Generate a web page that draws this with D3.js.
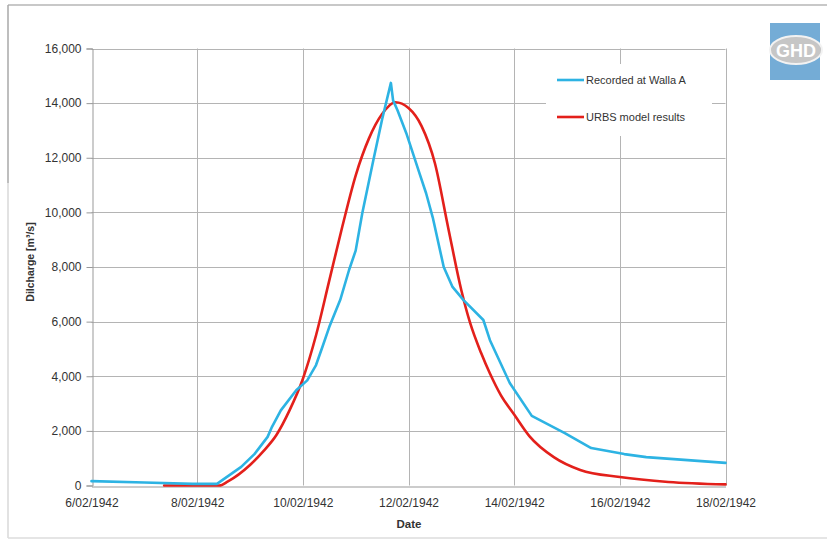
<!DOCTYPE html>
<html>
<head>
<meta charset="utf-8">
<script src="https://cdn.jsdelivr.net/npm/d3@7"></script>
<style>
  html, body { margin: 0; padding: 0; background: #fff; }
  svg { display: block; }
  text { font-family: "Liberation Sans", Arial, sans-serif; fill: #333; }
</style>
</head>
<body>
<svg id="chart" width="827" height="544"></svg>
<script>
// Recorded discharge at Walla A (m³/s)
const recordedTimes = [
  "1942-02-06T00:00", "1942-02-07T00:00", "1942-02-07T22:00", "1942-02-08T09:00",
  "1942-02-08T20:00", "1942-02-09T02:00", "1942-02-09T08:00", "1942-02-09T10:00",
  "1942-02-09T14:00", "1942-02-09T21:00", "1942-02-10T02:00", "1942-02-10T06:00",
  "1942-02-10T09:00", "1942-02-10T12:00", "1942-02-10T17:00", "1942-02-10T21:00",
  "1942-02-11T00:00", "1942-02-11T03:00", "1942-02-11T08:00", "1942-02-11T12:00",
  "1942-02-11T16:00", "1942-02-11T17:00", "1942-02-11T19:00", "1942-02-11T23:00",
  "1942-02-12T05:00", "1942-02-12T08:00", "1942-02-12T11:00", "1942-02-12T16:00",
  "1942-02-12T20:00", "1942-02-13T01:00", "1942-02-13T10:00", "1942-02-13T13:00",
  "1942-02-13T22:00", "1942-02-14T08:00", "1942-02-14T23:00", "1942-02-15T11:00",
  "1942-02-16T02:00", "1942-02-16T12:00", "1942-02-18T00:00"
];
const recordedValues = [
  160, 110, 60, 60,
  680, 1150, 1780, 2150,
  2750, 3490, 3850, 4410,
  5100, 5800, 6800, 7890,
  8600, 9970, 11900, 13400,
  14740, 14100, 13740, 12900,
  11430, 10700, 9820, 8000,
  7270, 6790, 6060, 5320,
  3750, 2550, 1920, 1370,
  1150, 1040, 830
];

// URBS model results (m³/s)
const modelTimes = [
  "1942-02-07T09:00", "1942-02-08T10:00", "1942-02-08T14:00", "1942-02-09T00:00",
  "1942-02-09T06:00", "1942-02-09T12:00", "1942-02-09T18:00", "1942-02-10T00:00",
  "1942-02-10T06:00", "1942-02-10T12:00", "1942-02-10T18:00", "1942-02-11T00:00",
  "1942-02-11T06:00", "1942-02-11T12:00", "1942-02-11T18:00", "1942-02-12T00:00",
  "1942-02-12T06:00", "1942-02-12T12:00", "1942-02-12T18:00", "1942-02-13T00:00",
  "1942-02-13T04:00", "1942-02-13T09:00", "1942-02-13T13:00", "1942-02-13T18:00",
  "1942-02-14T00:00", "1942-02-14T07:00", "1942-02-14T18:00", "1942-02-15T06:00",
  "1942-02-16T00:00", "1942-02-16T22:00", "1942-02-18T00:00"
];
const modelValues = [
  0, 0, 150, 750,
  1250, 1850, 2760, 3900,
  5500, 7500, 9500, 11350,
  12700, 13600, 14030, 13820,
  13150, 11800, 9450, 7150,
  5950, 4850, 4100, 3300,
  2600, 1800, 1040, 570,
  310, 130, 40
];

const yTicks = [0, 2000, 4000, 6000, 8000, 10000, 12000, 14000, 16000];
const xTickDates = ["1942-02-06", "1942-02-08", "1942-02-10", "1942-02-12",
                    "1942-02-14", "1942-02-16", "1942-02-18"];
const seriesNames = ["Recorded at Walla A", "URBS model results"];
const seriesColors = ["#2db3e3", "#e3201b"];

const parseT = d3.timeParse("%Y-%m-%dT%H:%M");
const parseD = d3.timeParse("%Y-%m-%d");
const fmtDate = d => `${d.getDate()}/${d3.timeFormat("%m/%Y")(d)}`;

const svg = d3.select("#chart");

// page frame
svg.append("line").attr("x1", 8).attr("x2", 827).attr("y1", 5).attr("y2", 5)
  .attr("stroke", "#c8c8c8").attr("stroke-width", 2);
svg.append("line").attr("x1", 8).attr("x2", 8).attr("y1", 5).attr("y2", 183)
  .attr("stroke", "#a8a8a8").attr("stroke-width", 1.5);
svg.append("line").attr("x1", 8).attr("x2", 8).attr("y1", 183).attr("y2", 538)
  .attr("stroke", "#d8d8d8").attr("stroke-width", 1.5);
svg.append("line").attr("x1", 8).attr("x2", 827).attr("y1", 538).attr("y2", 538)
  .attr("stroke", "#dcdcdc").attr("stroke-width", 1.5);

const x = d3.scaleTime()
  .domain([parseD(xTickDates[0]), parseD(xTickDates[xTickDates.length - 1])])
  .range([91.5, 725.5]);
const y = d3.scaleLinear().domain([0, 16000]).range([485.5, 48.5]);

const ticksX = xTickDates.map(parseD);

// grid
const grid = svg.append("g");
grid.selectAll(".hg").data(yTicks.slice(1)).join("line")
  .attr("x1", x.range()[0]).attr("x2", x.range()[1])
  .attr("y1", d => Math.round(y(d)) + 0.5).attr("y2", d => Math.round(y(d)) + 0.5)
  .attr("stroke", "#b4b4b4").attr("stroke-width", 1);
grid.selectAll(".vg").data(ticksX.slice(1)).join("line")
  .attr("x1", d => Math.round(x(d)) + 0.5).attr("x2", d => Math.round(x(d)) + 0.5)
  .attr("y1", y(16000)).attr("y2", y(0))
  .attr("stroke", "#b4b4b4").attr("stroke-width", 1);

// legend background hides the grid behind it
svg.append("rect").attr("x", 546).attr("y", 64).attr("width", 166).attr("height", 72)
  .attr("fill", "#fff");

// y axis
const yAxis = d3.axisLeft(y).tickValues(yTicks).tickSize(6).tickPadding(5)
  .tickFormat(d3.format(","));
const gy = svg.append("g").attr("transform", `translate(${Math.round(x.range()[0]) + 0.5},0)`).call(yAxis);
gy.select(".domain").attr("stroke", "#999");
gy.selectAll(".tick line").attr("stroke", "#999");
gy.selectAll(".tick text").attr("font-size", 12).attr("fill", "#333")
  .attr("font-family", "'Liberation Sans', Arial, sans-serif");

// x axis
const xAxis = d3.axisBottom(x).tickValues(ticksX).tickSize(0).tickPadding(12)
  .tickFormat(fmtDate);
const gx = svg.append("g").attr("transform", `translate(0,${Math.round(y(0)) + 0.5})`).call(xAxis);
gx.select(".domain").attr("stroke", "#999");
gx.selectAll(".tick text").attr("font-size", 12).attr("fill", "#333")
  .attr("font-family", "'Liberation Sans', Arial, sans-serif");

// axis titles
svg.append("text").attr("x", 409).attr("y", 528).attr("text-anchor", "middle")
  .attr("font-size", 11.5).attr("font-weight", "bold").attr("fill", "#222").text("Date");
svg.append("text").attr("transform", "translate(34,262) rotate(-90)")
  .attr("text-anchor", "middle").attr("font-size", 10.5).attr("font-weight", "bold")
  .attr("fill", "#222").text("Dilcharge [m³/s]");

// series: recorded as straight segments, model as a smooth curve
const curves = [d3.curveLinear, d3.curveMonotoneX];
const series = [
  recordedTimes.map((t, i) => ({ t: parseT(t), v: recordedValues[i] })),
  modelTimes.map((t, i) => ({ t: parseT(t), v: modelValues[i] }))
];
// model drawn first, recorded on top
[1, 0].forEach(i => {
  const line = d3.line().x(d => x(d.t)).y(d => y(d.v)).curve(curves[i]);
  svg.append("path").datum(series[i])
    .attr("d", line).attr("fill", "none")
    .attr("stroke", seriesColors[i]).attr("stroke-width", 2.6)
    .attr("stroke-linejoin", "round").attr("stroke-linecap", "round");
});

// legend
const leg = svg.append("g");
seriesNames.forEach((name, i) => {
  const ly = 80 + i * 37;
  leg.append("line").attr("x1", 557).attr("x2", 584).attr("y1", ly).attr("y2", ly)
    .attr("stroke", seriesColors[i]).attr("stroke-width", 2.6);
  leg.append("text").attr("x", 586).attr("y", ly + 4).attr("font-size", 11)
    .attr("fill", "#222").text(name);
});

// GHD logo
const logo = svg.append("g");
logo.append("rect").attr("x", 770).attr("y", 23).attr("width", 50).attr("height", 57)
  .attr("fill", "#74acd6");
logo.append("ellipse").attr("cx", 796).attr("cy", 50).attr("rx", 26).attr("ry", 14)
  .attr("fill", "#c6c6c6").attr("stroke", "#f2f2f2").attr("stroke-width", 2);
logo.append("text").attr("x", 796).attr("y", 57).attr("text-anchor", "middle")
  .attr("font-size", 18).attr("font-weight", "bold").style("fill", "#fff")
  .text("GHD");
</script>
</body>
</html>
